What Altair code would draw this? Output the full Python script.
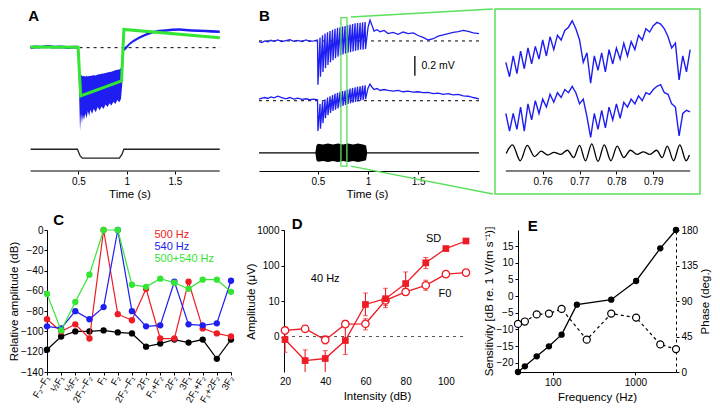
import json
import altair as alt
import pandas as pd

FONT = "Liberation Sans"
BLUE = "#1e1ef2"
GREEN = "#33e633"
RED = "#ee1c24"
LGREEN = "#5ae05a"
LBL = 10
TTL = 11.5
LET = 15

# ---------------- Panel A (trace levels, arbitrary units; larger = lower) ----------------
a_t = [0.005, 0.049, 0.117, 0.185, 0.253, 0.320, 0.388, 0.456, 0.497,
       0.510, 0.517, 0.527, 0.537, 0.547, 0.558, 0.571, 0.585, 0.598, 0.612, 0.625, 0.642,
       0.659, 0.680, 0.700, 0.720, 0.741, 0.761, 0.781, 0.802, 0.822, 0.842, 0.863, 0.883,
       0.903, 0.924, 0.941, 0.954,
       0.971, 0.998, 1.032, 1.066, 1.134, 1.202, 1.269, 1.337, 1.405, 1.473, 1.541, 1.608,
       1.676, 1.744, 1.812, 1.880, 1.964]
a_hi = [119, 117, 118, 116, 118, 117, 119, 118, 118,
        205, 208, 212, 210, 214, 212, 215, 212, 214, 212, 213, 211, 210, 211, 208, 207, 206,
        205, 203, 202, 200, 199, 197, 195, 193, 192, 188, 175,
        124, 118, 108, 100, 88, 79, 72, 68, 66, 64, 63, 65, 66, 67, 68, 69, 70]
a_lo = [128, 127, 126, 125, 127, 126, 128, 127, 128,
        300, 385, 330, 360, 335, 350, 330, 345, 322, 338, 318, 332, 315, 326, 310, 320, 308,
        316, 302, 310, 298, 305, 293, 300, 288, 295, 285, 240,
        135, 128, 116, 108, 96, 87, 80, 76, 74, 72, 71, 73, 74, 75, 76, 77, 78]
a_fit_t = [0.005, 0.497, 0.524, 0.947, 0.971, 1.964]
a_fit_v = [122, 123, 275, 228, 67, 93]
a_stim_t = [0.005, 0.490, 0.517, 0.541, 0.924, 0.951, 0.971, 1.964]
a_stim_v = [442, 442, 462, 470, 470, 458, 442, 442]
a_span = [0.005, 1.964]
a_base = 124

# ---------------- Panel B ----------------
b_t_pre = [-0.088, -0.06, -0.03, 0.0, 0.03, 0.06, 0.10, 0.14, 0.18, 0.22, 0.26, 0.30,
           0.34, 0.38, 0.42, 0.46]
b_t_osc = [0.496, 0.500, 0.521, 0.525, 0.546, 0.550, 0.571, 0.575, 0.596, 0.600,
           0.621, 0.625, 0.646, 0.650, 0.671, 0.675, 0.696, 0.700, 0.721, 0.725,
           0.746, 0.750, 0.771, 0.775, 0.796, 0.800, 0.821, 0.825, 0.846, 0.850,
           0.871, 0.875, 0.896, 0.900, 0.921, 0.925, 0.946, 0.950, 0.971, 0.975]
b_t_post = [1.0, 1.02, 1.04, 1.06, 1.09, 1.12, 1.16, 1.2, 1.25, 1.3, 1.35, 1.4, 1.45,
            1.5, 1.55, 1.6, 1.65, 1.7, 1.75, 1.8, 1.85, 1.9, 1.95, 2.0, 2.05, 2.107]
b1_pre = [105, 108, 103, 106, 101, 104, 100, 105, 102, 99, 104, 101, 105, 100, 104, 103]
b1_osc = [100, 240, 92, 215, 85, 200, 80, 188, 76, 178, 72, 170, 68, 163, 65, 157,
          62, 152, 60, 148, 58, 145, 56, 142, 54, 140, 52, 138, 50, 136, 48, 134,
          47, 132, 46, 130, 45, 130, 44, 128]
b1_post = [60, 38, 55, 72, 68, 74, 70, 80, 76, 82, 75, 80, 78, 86, 92, 100, 96, 88,
           84, 80, 76, 74, 70, 73, 78, 80]
b2_pre = [285, 282, 280, 283, 278, 281, 276, 280, 284, 280, 285, 282, 286, 284, 287, 285]
b2_osc = [287, 385, 300, 378, 292, 360, 286, 345, 280, 335, 276, 328, 272, 322, 268, 318,
          265, 314, 262, 310, 260, 306, 258, 303, 255, 300, 252, 298, 250, 296, 248, 294,
          246, 292, 245, 290, 243, 288, 242, 285]
b2_post = [250, 238, 248, 255, 252, 258, 255, 258, 260, 258, 262, 260, 263, 262, 265, 264,
           268, 266, 270, 268, 272, 270, 275, 276, 280, 284]
b_base1, b_base2, b_stim_base = 103, 290, 453
b_span = [-0.088, 2.107]
b_burst_t = [0.474, 0.485, 0.50, 0.55, 0.60, 0.65, 0.70, 0.75, 0.80, 0.85, 0.90, 0.95, 0.98, 0.992]
b_burst_hi = [453, 430, 425, 427, 424, 427, 424, 427, 424, 427, 424, 427, 430, 453]
b_burst_lo = [453, 476, 481, 479, 482, 479, 482, 479, 482, 479, 482, 479, 476, 453]
b_win = [0.7295, 0.789, 30, 495]          # zoom window t0, t1, top, bottom
b_conn_t = [0.828, 2.245]
b_conn_top = [28, 3]
b_conn_bot = [495, 582]
b_bar = [1.467, 150, 212]
time_title = "Time (s)"
a_title_pos = [1.034, 584]
b_title_pos = [0.994, 584]

# ---------------- Zoom panel ----------------
z_t = [round(0.750 + 0.001 * i, 3) for i in range(51)]
z1 = [170, 215, 150, 205, 135, 190, 125, 175, 120, 160,
      100, 150, 90, 130, 85, 100, 70, 60, 40, 65,
      100, 170, 140, 235, 150, 195, 140, 200, 130, 175,
      125, 160, 110, 150, 105, 130, 85, 100, 65, 75,
      55, 45, 50, 65, 90, 125, 110, 225, 150, 200, 130]
z2 = [330, 385, 330, 380, 310, 385, 300, 350, 290, 330,
      285, 310, 270, 295, 265, 280, 255, 265, 245, 265,
      300, 285, 340, 405, 330, 380, 320, 375, 310, 350,
      300, 345, 295, 310, 285, 300, 275, 290, 265, 270,
      255, 245, 240, 265, 270, 300, 310, 400, 330, 320, 325]
z_stim_t = [0.7501, 0.7518, 0.7539, 0.7558, 0.7578, 0.7596, 0.7613, 0.7631, 0.7649, 0.7667,
            0.7684, 0.7700, 0.7716, 0.7733, 0.7750, 0.7767, 0.7785, 0.7802, 0.7820, 0.7838,
            0.7856, 0.7873, 0.7891, 0.7909, 0.7924, 0.7938, 0.7955, 0.7972, 0.7989, 0.7998]
z_stim_v = [455, 428, 478, 430, 465, 448, 460, 452, 458, 445,
            468, 430, 478, 425, 480, 428, 478, 432, 468, 445,
            458, 450, 458, 445, 468, 432, 478, 428, 478, 460]
z_ticks = [0.76, 0.77, 0.78, 0.79]

# ---------------- Panel C ----------------
c_labels = ["F₂−F₁", "½F₁", "½F₂", "2F₁−F₂", "F₁", "F₂", "2F₂−F₁", "2F₁", "F₁+F₂",
            "2F₂", "3F₁", "2F₁+F₂", "F₁+2F₂", "3F₂"]
c_500 = [-88, -100, -93, -107, 0, -83, -89, -58, -107, -107, -51, -97, -102, -105]
c_540 = [-95, -97, -80, -88, -76, 0, -80, -95, -94, -51, -93, -94, -92, -50]
c_both = [-63, -99, -71, -44, 0, 0, -54, -56, -48, -52, -58, -49, -49, -61]
c_none = [-118, -105, -100, -100, -99, -101, -102, -115, -112, -108, -111, -108, -127, -108]
c_legend = ["500 Hz", "540 Hz", "500+540 Hz"]

# ---------------- Panel D ----------------
d_int = [20, 30, 40, 50, 60, 70, 80, 90, 100, 110]
d_sd = [0.82, 0.21, 0.24, 0.77, 8.0, 11.6, 31, 119, 300, 490]
d_sd_hi = [1.19, 0.42, 0.40, 2.84, 16.8, 22.8, 66, 168, None, None]
d_sd_lo = [0.36, 0.05, 0.05, 0.31, 3.85, 7.5, 14.5, 82, None, None]
d_f0 = [1.48, 1.65, 0.80, 2.23, 2.28, 10.4, 18, 27.7, 57, 63]
d_f0_hi = [1.84, 2.05, 1.04, 2.84, 3.16, 13.5, 22.4, 38.5, None, None]
d_f0_lo = [1.19, 1.33, 0.62, 1.84, 1.54, 6.5, 14.5, 20, None, None]

# ---------------- Panel E ----------------
e_f_sens = [38, 46, 64, 90, 128, 196, 510, 1020, 2000, 3100]
e_sens = [-22.8, -21.1, -18.1, -15.1, -11.6, -2.6, -1.1, 4.5, 14.3, 19.8]
e_f_phase = [38, 46, 64, 90, 128, 258, 510, 1020, 2000, 3100]
e_phase = [61, 64, 73, 74, 80, 41, 74, 69, 35, 29]

# =====================================================================
H_TOP = 162
Z_H = 185
H_BOT = 142


def yax(scale):
    return alt.Y("v:Q", scale=scale, axis=None)


def text_layer(rows, xenc, scale_y, **kw):
    df = pd.DataFrame(rows, columns=["t", "v", "label"])
    return alt.Chart(df).mark_text(**kw).encode(x=xenc, y=yax(scale_y), text="label:N")


# ---- A (view starts where panel C's plot starts; trace begins left of it) ----
A_X = alt.Scale(domain=[0.175, 2.008], nice=False, zero=False)
A_Y = alt.Scale(domain=[510, 3], nice=False, zero=False)
a_xenc = alt.X("t:Q", scale=A_X, axis=alt.Axis(values=[0.5, 1, 1.5], format=".2~f",
               title=None, domain=False))
a_band = alt.Chart(pd.DataFrame({"t": a_t, "v": a_hi, "lo": a_lo})).mark_area(
    color=BLUE, opacity=1).encode(x=a_xenc, y=yax(A_Y), y2="lo:Q")
a_fit = alt.Chart(pd.DataFrame({"t": a_fit_t, "v": a_fit_v})).mark_line(
    color=GREEN, strokeWidth=3).encode(x=a_xenc, y=yax(A_Y))
a_stim = alt.Chart(pd.DataFrame({"t": a_stim_t, "v": a_stim_v})).mark_line(
    color="#222", strokeWidth=1.3).encode(x=a_xenc, y=yax(A_Y))
a_dash = alt.Chart(pd.DataFrame({"t": [a_span[0]], "t2": [a_span[1]], "v": [a_base]})).mark_rule(
    color="black", strokeDash=[3, 4], strokeWidth=1).encode(x=a_xenc, x2="t2:Q", y=yax(A_Y))
a_axis = alt.Chart(pd.DataFrame({"t": [a_span[0]], "t2": [a_span[1]], "v": [510]})).mark_rule(
    color="black", strokeWidth=1).encode(x=a_xenc, x2="t2:Q", y=yax(A_Y))
a_let = text_layer([[-0.019, 50, "A"]], a_xenc, A_Y, fontSize=LET, fontWeight="bold",
                   align="left", baseline="bottom")
a_ttl = text_layer([a_title_pos + [time_title]], a_xenc, A_Y, fontSize=TTL, align="center",
                   baseline="middle")
chart_a = alt.layer(a_dash, a_band, a_fit, a_stim, a_axis, a_let, a_ttl).properties(
    width=177, height=H_TOP)

# ---- B ----
B_X = alt.Scale(domain=b_span, nice=False, zero=False)
B_Y = alt.Scale(domain=[510, 3], nice=False, zero=False)
b_xenc = alt.X("t:Q", scale=B_X, axis=alt.Axis(values=[0.5, 1, 1.5], format=".2~f", title=None))
b_t = b_t_pre + b_t_osc + b_t_post
b_tr1 = alt.Chart(pd.DataFrame({"t": b_t, "v": b1_pre + b1_osc + b1_post})).mark_line(
    color=BLUE, strokeWidth=1.3).encode(x=b_xenc, y=yax(B_Y))
b_tr2 = alt.Chart(pd.DataFrame({"t": b_t, "v": b2_pre + b2_osc + b2_post})).mark_line(
    color=BLUE, strokeWidth=1.3).encode(x=b_xenc, y=yax(B_Y))
b_dash = alt.Chart(pd.DataFrame({"t": [b_span[0]] * 2, "t2": [b_span[1]] * 2,
                                 "v": [b_base1, b_base2]})).mark_rule(
    color="black", strokeDash=[3, 4], strokeWidth=1).encode(x=b_xenc, x2="t2:Q", y=yax(B_Y))
b_sbase = alt.Chart(pd.DataFrame({"t": [b_span[0]], "t2": [b_span[1]], "v": [b_stim_base]})).mark_rule(
    color="black", strokeWidth=1.2).encode(x=b_xenc, x2="t2:Q", y=yax(B_Y))
b_burst = alt.Chart(pd.DataFrame({"t": b_burst_t, "v": b_burst_hi, "lo": b_burst_lo})).mark_area(
    color="black").encode(x=b_xenc, y=yax(B_Y), y2="lo:Q")
b_rect = alt.Chart(pd.DataFrame({"t": [b_win[0]], "t2": [b_win[1]], "v": [b_win[2]], "v2": [b_win[3]]})).mark_rect(
    fillOpacity=0, stroke=LGREEN, strokeWidth=1.3).encode(x=b_xenc, x2="t2:Q", y=yax(B_Y), y2="v2:Q")
b_conn = alt.Chart(pd.DataFrame({"t": [b_conn_t[0]] * 2, "t2": [b_conn_t[1]] * 2,
                                 "v": [b_conn_top[0], b_conn_bot[0]],
                                 "v2": [b_conn_top[1], b_conn_bot[1]]})).mark_rule(
    color=LGREEN, strokeWidth=1.3).encode(x=b_xenc, x2="t2:Q", y=yax(B_Y), y2="v2:Q")
b_sbar = alt.Chart(pd.DataFrame({"t": [b_bar[0]], "v": [b_bar[1]], "v2": [b_bar[2]]})).mark_rule(
    color="black", strokeWidth=1.3).encode(x=b_xenc, y=yax(B_Y), y2="v2:Q")
b_sbar_txt = text_layer([[1.533, 181, "0.2 mV"]], b_xenc, B_Y, fontSize=10.5, align="left", baseline="middle")
b_let = text_layer([[-0.088, 50, "B"]], b_xenc, B_Y, fontSize=LET, fontWeight="bold",
                   align="left", baseline="bottom")
b_ttl = text_layer([b_title_pos + [time_title]], b_xenc, B_Y, fontSize=TTL, align="center",
                   baseline="middle")
chart_b = alt.layer(b_dash, b_tr1, b_tr2, b_sbase, b_burst, b_rect, b_conn, b_sbar,
                    b_sbar_txt, b_let, b_ttl).properties(width=220, height=H_TOP)

# ---- Zoom ----
Z_X = alt.Scale(domain=[0.74706, 0.80267], nice=False, zero=False)
Z_Y = alt.Scale(domain=[582, 3], nice=False, zero=False)
z_xenc = alt.X("t:Q", scale=Z_X, axis=alt.Axis(values=z_ticks, format=".2~f", title=None,
               domain=False, offset=-23))
z_box = alt.Chart(pd.DataFrame({"t": [0.74706], "t2": [0.80267], "v": [3], "v2": [582]})).mark_rect(
    fillOpacity=0, stroke=LGREEN, strokeWidth=1.5).encode(x=z_xenc, x2="t2:Q", y=yax(Z_Y), y2="v2:Q")
z_l1 = alt.Chart(pd.DataFrame({"t": z_t, "v": z1})).mark_line(
    color=BLUE, strokeWidth=1.4).encode(x=z_xenc, y=yax(Z_Y))
z_l2 = alt.Chart(pd.DataFrame({"t": z_t, "v": z2})).mark_line(
    color=BLUE, strokeWidth=1.4).encode(x=z_xenc, y=yax(Z_Y))
z_st = alt.Chart(pd.DataFrame({"t": z_stim_t, "v": z_stim_v})).mark_line(
    color="black", strokeWidth=1.3, interpolate="monotone").encode(x=z_xenc, y=yax(Z_Y))
z_axis = alt.Chart(pd.DataFrame({"t": [0.75], "t2": [0.80], "v": [510]})).mark_rule(
    color="black", strokeWidth=1).encode(x=z_xenc, x2="t2:Q", y=yax(Z_Y))
chart_z = alt.layer(z_box, z_l1, z_l2, z_st, z_axis).properties(width=205, height=Z_H)

top = alt.hconcat(chart_a, alt.hconcat(chart_b, chart_z, spacing=0), spacing=30)

# ---- C ----
C_X = alt.Scale(domain=[0, 13], nice=False, zero=False)
C_Y = alt.Scale(domain=[-140, 0], nice=False)
c_xenc = alt.X("i:Q", scale=C_X, axis=alt.Axis(
    values=list(range(14)), labelExpr=json.dumps(c_labels, ensure_ascii=False) + "[datum.value]",
    labelAngle=-60, title=None, labelFontSize=9.5, labelOverlap=False, labelPadding=1))
c_yenc = alt.Y("v:Q", scale=C_Y, axis=alt.Axis(values=list(range(-140, 1, 20)),
               title="Relative amplitude (dB)", titlePadding=1, labelPadding=1))
c_layers = []
for vals, col in [(c_none, "black"), (c_500, RED), (c_540, BLUE), (c_both, GREEN)]:
    d = pd.DataFrame({"i": list(range(14)), "v": vals})
    c_layers.append(alt.Chart(d).mark_line(color=col, strokeWidth=1.2).encode(x=c_xenc, y=c_yenc))
    c_layers.append(alt.Chart(d).mark_circle(color=col, size=40, opacity=1).encode(x=c_xenc, y=c_yenc))
c_leg = pd.DataFrame({"i": [7.59] * 3, "v": [-4.6, -16.7, -28.9], "label": c_legend,
                      "c": c_legend})
c_layers.append(alt.Chart(c_leg).mark_text(align="left", baseline="middle", fontSize=11).encode(
    x=c_xenc, y=c_yenc, text="label:N",
    color=alt.Color("c:N", scale=alt.Scale(domain=c_legend, range=[RED, BLUE, GREEN]), legend=None)))
c_layers.append(alt.Chart(pd.DataFrame({"i": [0.45], "v": [0], "label": ["C"]})).mark_text(
    align="left", baseline="bottom", fontSize=LET, fontWeight="bold", dy=-2).encode(
    x=c_xenc, y=c_yenc, text="label:N"))
chart_c = alt.layer(*c_layers).properties(width=184, height=H_BOT)

# ---- D ----
D_X = alt.Scale(domain=[19.5, 112], nice=False, zero=False)
D_Y = alt.Scale(type="log", domain=[0.1, 1000], nice=False)
d_xenc = alt.X("x:Q", scale=D_X, axis=alt.Axis(values=[20, 40, 60, 80, 100],
               title="Intensity (dB)", domain=False, ticks=False, labelPadding=4))
D_YAXIS = alt.Axis(values=[1, 10, 100, 1000], labelExpr="datum.value == 1 ? '0' : datum.label",
                   format="~g", title="Amplitude (μV)", titlePadding=0)


def d_y(field):
    return alt.Y(field + ":Q", scale=D_Y, axis=D_YAXIS)


d_sd_df = pd.DataFrame({"x": d_int, "v": d_sd, "hi": d_sd_hi, "lo": d_sd_lo})
d_f0_df = pd.DataFrame({"x": d_int, "v": d_f0, "hi": d_f0_hi, "lo": d_f0_lo})
d_layers = [
    alt.Chart(pd.DataFrame({"x": [20], "x2": [110], "v": [1]})).mark_rule(
        color="#555", strokeDash=[3, 4], strokeWidth=1.2).encode(x=d_xenc, x2="x2:Q", y=d_y("v")),
]
for df_ in [d_f0_df, d_sd_df]:
    eb = df_.dropna()
    d_layers.append(alt.Chart(df_).mark_line(color=RED, strokeWidth=1.3).encode(x=d_xenc, y=d_y("v")))
    d_layers.append(alt.Chart(eb).mark_rule(color=RED, strokeWidth=1.1, clip=True).encode(
        x=d_xenc, y=d_y("hi"), y2="lo:Q"))
    for fld in ["hi", "lo"]:
        d_layers.append(alt.Chart(eb).mark_tick(color=RED, orient="horizontal", size=5, thickness=1,
                                                clip=True).encode(x=d_xenc, y=d_y(fld)))
d_layers.append(alt.Chart(d_f0_df).mark_point(shape="circle", filled=True, fill="white",
                                              stroke=RED, strokeWidth=1.3, size=55, opacity=1).encode(
    x=d_xenc, y=d_y("v")))
d_layers.append(alt.Chart(d_sd_df).mark_point(shape="square", filled=True, color=RED,
                                              size=45, opacity=1).encode(x=d_xenc, y=d_y("v")))
d_txt = pd.DataFrame({"x": [93.9, 99.5, 40.0], "v": [550, 15.8, 40.6], "label": ["SD", "F0", "40 Hz"]})
d_layers.append(alt.Chart(d_txt).mark_text(fontSize=11, align="center", baseline="middle").encode(
    x=d_xenc, y=d_y("v"), text="label:N"))
d_layers.append(alt.Chart(pd.DataFrame({"x": [23.4], "v": [1000], "label": ["D"]})).mark_text(
    align="left", baseline="bottom", fontSize=LET, fontWeight="bold", dy=2).encode(
    x=d_xenc, y=d_y("v"), text="label:N"))
chart_d = alt.layer(*d_layers).properties(width=186, height=H_BOT)

# ---- E ----
E_X = alt.Scale(type="log", domain=[38, 3100], nice=False)
E_YL = alt.Scale(domain=[-22.8, 19.8], nice=False, zero=False)
E_YR = alt.Scale(domain=[0, 180], nice=False)
e_xenc = alt.X("f:Q", scale=E_X, axis=alt.Axis(values=[100, 1000], format="~g",
               title="Frequency (Hz)"))
e_yl = alt.Y("v:Q", scale=E_YL, axis=alt.Axis(values=list(range(-20, 16, 5)),
             title="Sensitivity [dB re. 1 V/(m s⁻¹)]", titlePadding=2))
e_yr = alt.Y("v:Q", scale=E_YR, axis=alt.Axis(values=[0, 45, 90, 135, 180], orient="right",
             title="Phase (deg.)", titleAngle=270, titleBaseline="top", domainDash=[3, 3],
             titlePadding=2))
e_sdf = pd.DataFrame({"f": e_f_sens, "v": e_sens})
e_pdf = pd.DataFrame({"f": e_f_phase, "v": e_phase})
e_left = alt.layer(
    alt.Chart(e_sdf).mark_line(color="black", strokeWidth=1.3).encode(x=e_xenc, y=e_yl),
    alt.Chart(e_sdf).mark_circle(color="black", size=40, opacity=1).encode(x=e_xenc, y=e_yl),
    alt.Chart(pd.DataFrame({"f": [50], "v": [19.8], "label": ["E"]})).mark_text(
        align="left", baseline="bottom", fontSize=LET, fontWeight="bold", dy=4).encode(
        x=e_xenc, y=e_yl, text="label:N"),
)
e_right = alt.layer(
    alt.Chart(e_pdf).mark_line(color="black", strokeWidth=1.2, strokeDash=[3, 3]).encode(x=e_xenc, y=e_yr),
    alt.Chart(e_pdf).mark_point(shape="circle", filled=True, fill="white", stroke="black",
                                strokeWidth=1.2, size=50, opacity=1).encode(x=e_xenc, y=e_yr),
)
chart_e = alt.layer(e_left, e_right).resolve_scale(y="independent").properties(width=158, height=H_BOT)

bottom = alt.hconcat(chart_c, chart_d, chart_e, spacing=10)

chart = alt.concat(top, bottom, columns=1, spacing=12, align="none").properties(padding=0).configure(
    font=FONT).configure_view(stroke=None).configure_axis(
    grid=False, labelFont=FONT, titleFont=FONT, labelFontSize=LBL, titleFontSize=TTL,
    titleFontWeight="normal", domainColor="black", tickColor="black", labelColor="black",
    titleColor="black", tickSize=3, labelPadding=2)

chart.save("out.html", embed_options={"renderer": "svg", "actions": False})
